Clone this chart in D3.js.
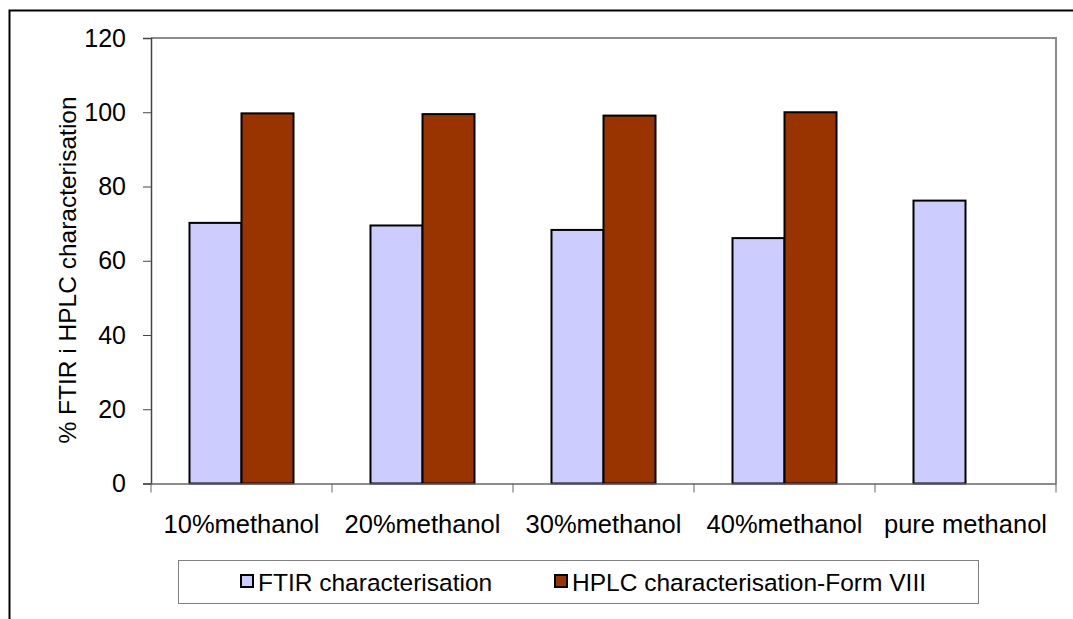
<!DOCTYPE html>
<html><head><meta charset="utf-8">
<script src="https://cdn.jsdelivr.net/npm/d3@7/dist/d3.min.js"></script>
<style>body{margin:0;background:#fff}svg{display:block}</style>
</head><body>
<svg id="c" width="1073" height="619"></svg>
<script>
const categories = ["10%methanol","20%methanol","30%methanol","40%methanol","pure methanol"];
const seriesNames = ["FTIR characterisation","HPLC characterisation-Form VIII"];
const ftir = [70.2, 69.5, 68.3, 66.1, 76.2];
const hplc = [99.7, 99.5, 99.1, 100.0, null];
const yTicks = [0,20,40,60,80,100,120];
const colors = ["#CCCCFF","#993300"];

const svg = d3.select("#c");
const font = "'Liberation Sans', Arial, sans-serif";
const L=151, R=1056, T=38, B=483.5;

// outer border
svg.append("path").attr("d","M9.5,619 V10.5 H1073").attr("fill","none").attr("stroke","#000").attr("stroke-width",2);

const x = d3.scaleBand().domain(categories).range([L,R]).padding(0);
const inner = d3.scaleBand().domain(seriesNames).range([0,x.bandwidth()]).paddingInner(0).paddingOuter(0.74);
const y = d3.scaleLinear().domain([0,120]).range([B,T]);

// plot frame (top/right)
svg.append("path").attr("d",`M${L},${T} H${R} V${B}`).attr("fill","none").attr("stroke","#8c8c8c").attr("stroke-width",2);

const data = categories.map((c,i)=>({c, vals:[ftir[i],hplc[i]]}));
const g = svg.append("g");
data.forEach(d=>{
  d.vals.forEach((v,j)=>{
    if(v==null) return;
    g.append("rect")
      .attr("x", x(d.c)+inner(seriesNames[j]))
      .attr("y", y(v))
      .attr("width", inner.bandwidth())
      .attr("height", y(0)-y(v))
      .attr("fill", colors[j]).attr("stroke","#000").attr("stroke-width",2);
  });
});

// y axis
const ya = svg.append("g").attr("transform",`translate(${L},0)`)
  .call(d3.axisLeft(y).tickValues(yTicks).tickSize(8).tickPadding(17));
ya.select(".domain").attr("stroke","#444").attr("stroke-width",1.5);
ya.selectAll(".tick line").attr("stroke","#444");
ya.selectAll("text").attr("font-family",font).attr("font-size",25).attr("fill","#000");

// x axis
const xa = svg.append("g").attr("transform",`translate(0,${B})`)
  .call(d3.axisBottom(x).tickSize(0).tickPadding(31));
xa.select(".domain").attr("stroke","#666").attr("stroke-width",1.5);
xa.selectAll("text").attr("font-family",font).attr("font-size",25.5).attr("fill","#000");
const bounds = categories.map(c=>x(c)).concat([R]);
xa.selectAll(".bt").data(bounds).enter().append("line")
  .attr("x1",d=>d).attr("x2",d=>d).attr("y1",0).attr("y2",9).attr("stroke","#666");

// y title
svg.append("text").attr("transform","translate(76,270) rotate(-90)")
  .attr("text-anchor","middle").attr("font-family",font).attr("font-size",24.5)
  .text("% FTIR i HPLC characterisation");

// legend
svg.append("rect").attr("x",178.5).attr("y",560.5).attr("width",800).attr("height",43)
  .attr("fill","#fff").attr("stroke","#808080").attr("stroke-width",1);
const legX = [241, 555];
seriesNames.forEach((n,i)=>{
  svg.append("rect").attr("x",legX[i]).attr("y",575).attr("width",12).attr("height",12)
    .attr("fill",colors[i]).attr("stroke","#000").attr("stroke-width",2);
  svg.append("text").attr("x",legX[i]+17).attr("y",591).attr("font-family",font).attr("font-size",24.5)
    .text(n);
});
</script>
</body></html>
